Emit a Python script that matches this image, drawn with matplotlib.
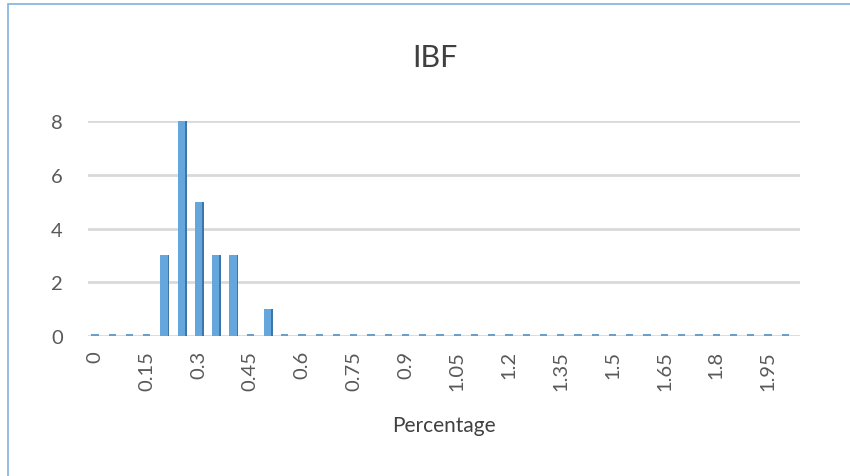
import matplotlib.pyplot as plt
from matplotlib.patches import Rectangle

plt.rcParams["font.family"] = ["Lato", "DejaVu Sans"]

# percentage bins 0.00 .. 2.00 step 0.05
categories = ["%g" % (i * 0.05) for i in range(41)]
counts = [0, 0, 0, 0, 3, 8, 5, 3, 3, 0, 1] + [0] * 30
tick_labels = ["0", "0.15", "0.3", "0.45", "0.6", "0.75", "0.9", "1.05",
               "1.2", "1.35", "1.5", "1.65", "1.8", "1.95"]

fig = plt.figure(figsize=(8.5, 4.77), dpi=100)
fig.patches.append(Rectangle((0.009, -0.1), 1.1, 1.09, transform=fig.transFigure,
                             fill=False, edgecolor="#7FB2E0", linewidth=1.2))
ax = fig.add_axes([0.1035, 0.2935, 0.8375, 0.4505])

x = list(range(len(categories)))
w = 0.42
side = 0.1
# floor face under every bar (zero bars show as a flat dash)
ax.bar(x, [0.06] * len(x), width=w, color="#6A9ECB", zorder=3)
ax.bar(x, counts, width=w, color="#65A7DC", zorder=3)
ax.bar([i + w / 2 + side / 2 for i in x], counts, width=side,
       color="#3F76A8", zorder=3)

ax.set_ylim(0, 8)
ax.set_xlim(-0.4, 40.85)
ax.set_yticks([0, 2, 4, 6, 8])
ax.set_xticks(x[::3])
ax.set_xticklabels(tick_labels, rotation=90)
ax.tick_params(axis="both", length=0, labelsize=14.5, colors="#595959")
ax.tick_params(axis="y", pad=18)
ax.tick_params(axis="x", pad=10)
ax.grid(axis="y", color="#D9D9D9", linewidth=2)
ax.set_axisbelow(True)
for s in ax.spines.values():
    s.set_visible(False)

ax.set_xlabel("Percentage", fontsize=15, color="#404040", labelpad=18)
fig.text(0.512, 0.878, "IBF", ha="center", va="center", fontsize=22, color="#404040")

plt.savefig("out.png", dpi=100)
